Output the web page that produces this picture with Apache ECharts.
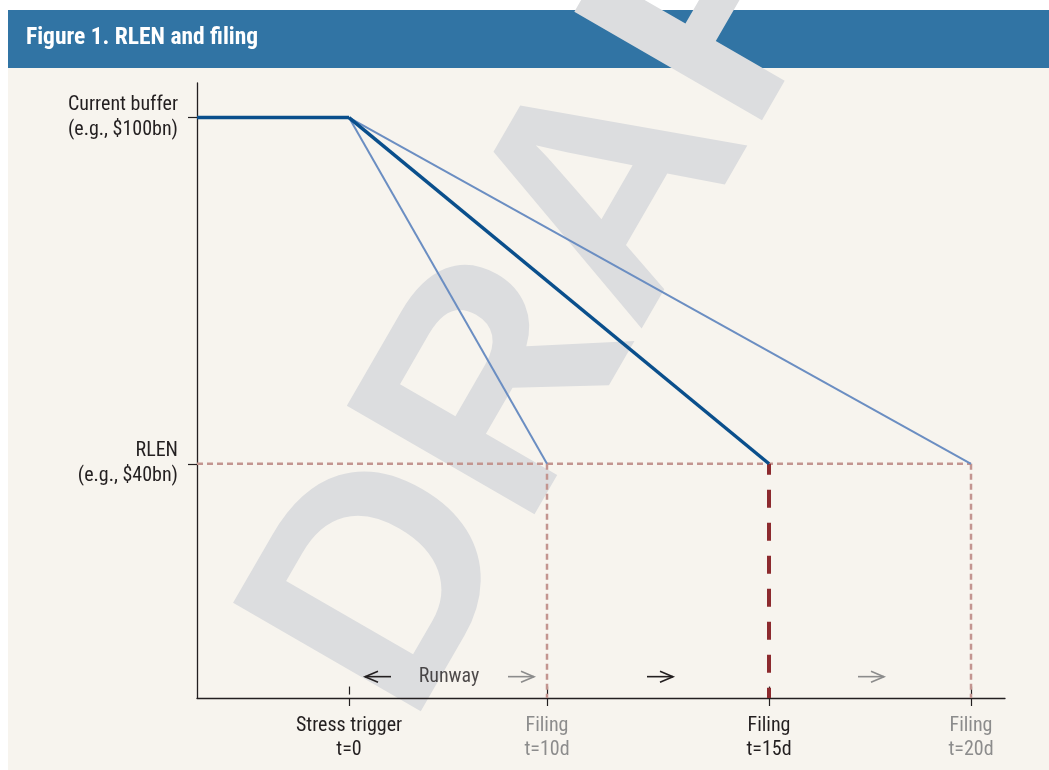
<!DOCTYPE html>
<html>
<head>
<meta charset="utf-8">
<script src="https://cdn.jsdelivr.net/npm/echarts@6/dist/echarts.min.js"></script>
<style>
  html, body { margin: 0; padding: 0; background: #ffffff; }
</style>
</head>
<body>
<div id="main" style="width: 1049px;height:770px;"></div>
<script type="text/javascript">
    // values (x is a schematic position, not days)
    var bufferLevel = 100;
    var rlenLevel = 40;
    var stressPos = 1.52;
    var filingDays = [10, 15, 20];
    var filingPos = [3.50, 5.72, 7.74];
    var highlightDay = 15;
    var yLabels = ['Current buffer\n(e.g., $100bn)', 'RLEN\n(e.g., $40bn)'];
    var runwayFrom = [1.94, 3.11, 4.50, 6.61];
    var runwayTo = [1.68, 3.37, 4.76, 6.87];
    var runwayY = 3.1;
    var runwayTextPos = 2.52;

    var yMin = -0.6, yMax = 106, xMax = 8.08;
    var font = "'Roboto Condensed', 'Liberation Sans Narrow', 'Arial Narrow', sans-serif";
    var ink = '#231f20', grey = '#8c8c8c';
    var darkBlue = '#0a4f8c', lightBlue = '#6b8ec2';

    var xTickVals = [stressPos].concat(filingPos);
    var xTickText = ['Stress trigger\nt=0'].concat(filingDays.map(function (d) { return 'Filing\nt=' + d + 'd'; }));
    var xTickDark = [true].concat(filingDays.map(function (d) { return d === highlightDay; }));

    var myChart = echarts.init(document.getElementById('main'));

    var series = [];
    // flat buffer before the stress event
    series.push({
        type: 'line', data: [[0, bufferLevel], [stressPos, bufferLevel]],
        symbol: 'none', z: 4, lineStyle: { color: darkBlue, width: 3.5 }
    });
    // RLEN horizontal
    series.push({
        type: 'line', data: [[0, rlenLevel], [filingPos[filingPos.length - 1], rlenLevel]],
        symbol: 'none', z: 2, lineStyle: { color: '#c39590', width: 2.5, type: [6, 4] }
    });
    filingDays.forEach(function (d, i) {
        var hi = d === highlightDay;
        series.push({
            type: 'line', data: [[stressPos, bufferLevel], [filingPos[i], rlenLevel]],
            symbol: 'none', z: hi ? 4 : 3,
            lineStyle: { color: hi ? darkBlue : lightBlue, width: hi ? 3.5 : 2 }
        });
        series.push({
            type: 'line', data: [[filingPos[i], rlenLevel], [filingPos[i], yMin]],
            symbol: 'none', z: 2,
            lineStyle: hi ? { color: '#8c2a2e', width: 4, type: [18, 15], dashOffset: 7 }
                          : { color: '#c39590', width: 2.5, type: [6, 4] }
        });
    });
    // runway arrows
    series.push({
        type: 'custom', z: 5,
        data: runwayFrom.map(function (f, i) { return [f, runwayTo[i], runwayY, i % 2]; }),
        renderItem: function (params, api) {
            var a = api.coord([api.value(0), api.value(2)]);
            var b = api.coord([api.value(1), api.value(2)]);
            var dir = b[0] > a[0] ? 1 : -1;
            var c = api.value(3) ? grey : ink;
            return {
                type: 'group', children: [
                    { type: 'line', shape: { x1: a[0], y1: a[1], x2: b[0], y2: b[1] }, style: { stroke: c, lineWidth: 1.6 } },
                    { type: 'polyline', shape: { points: [[b[0] - dir * 13, b[1] - 5.5], [b[0], b[1]], [b[0] - dir * 13, b[1] + 5.5]] },
                      style: { stroke: c, fill: null, lineWidth: 1.6 } }
                ]
            };
        }
    });
    series.push({
        type: 'scatter', symbolSize: 0, z: 5, data: [[runwayTextPos, runwayY]],
        label: { show: true, position: 'inside', formatter: 'Runway', color: ink, fontSize: 20, fontFamily: font }
    });

    var option = {
        animation: false,
        grid: { left: 197, right: 44, top: 83, bottom: 72, containLabel: false },
        graphic: [
            { type: 'rect', z: -20, shape: { x: 8, y: 68, width: 1041, height: 702 }, style: { fill: '#f7f4ee' } },
            { type: 'rect', z: -10, shape: { x: 8, y: 10, width: 1041, height: 58 }, style: { fill: '#3174a4' } },
            { type: 'text', z: -5, x: 335, y: 686, rotation: Math.PI / 3,
              style: { text: 'DRAFT', fill: '#dcdddf', fontSize: 315, fontWeight: 'bold',
                       fontFamily: "'Liberation Sans', Arial, sans-serif", align: 'left', verticalAlign: 'middle' } },
            { type: 'text', z: 10, x: 26, y: 38,
              style: { text: 'Figure 1. RLEN and filing', fill: '#ffffff', fontSize: 23.5, fontWeight: 'bold',
                       fontFamily: font, align: 'left', verticalAlign: 'middle' } }
        ],
        xAxis: [{
            type: 'value', min: 0, max: xMax,
            splitLine: { show: false },
            axisLine: { show: true, onZero: false, lineStyle: { color: ink, width: 1.3 } },
            axisTick: { show: true, customValues: xTickVals, length: 8, lineStyle: { color: ink, width: 1.2 } },
            axisLabel: {
                show: true, customValues: xTickVals, margin: 16,
                formatter: function (v) {
                    var i = xTickVals.indexOf(v);
                    if (i < 0) return '';
                    var k = xTickDark[i] ? 'k' : 'g';
                    return xTickText[i].split('\n').map(function (s) { return '{' + k + '|' + s + '}'; }).join('\n');
                },
                rich: {
                    k: { color: ink, fontSize: 20, lineHeight: 24, fontFamily: font },
                    g: { color: grey, fontSize: 20, lineHeight: 24, fontFamily: font }
                }
            }
        }, {
            type: 'value', min: 0, max: xMax, position: 'bottom',
            splitLine: { show: false }, axisLine: { show: false }, axisLabel: { show: false },
            axisTick: { show: true, inside: true, customValues: xTickVals, length: 8, lineStyle: { color: ink, width: 1.2 } }
        }],
        yAxis: {
            type: 'value', min: yMin, max: yMax,
            splitLine: { show: false },
            axisLine: { show: true, onZero: false, lineStyle: { color: ink, width: 1.3 } },
            axisTick: { show: true, customValues: [bufferLevel, rlenLevel], length: 9, lineStyle: { color: ink, width: 1.2 } },
            axisLabel: {
                show: true, customValues: [bufferLevel, rlenLevel], margin: 19,
                color: ink, fontSize: 20, lineHeight: 25, fontFamily: font,
                formatter: function (v) { return v === bufferLevel ? yLabels[0] : yLabels[1]; }
            }
        },
        series: series
    };
    myChart.setOption(option);
</script>
</body>
</html>
